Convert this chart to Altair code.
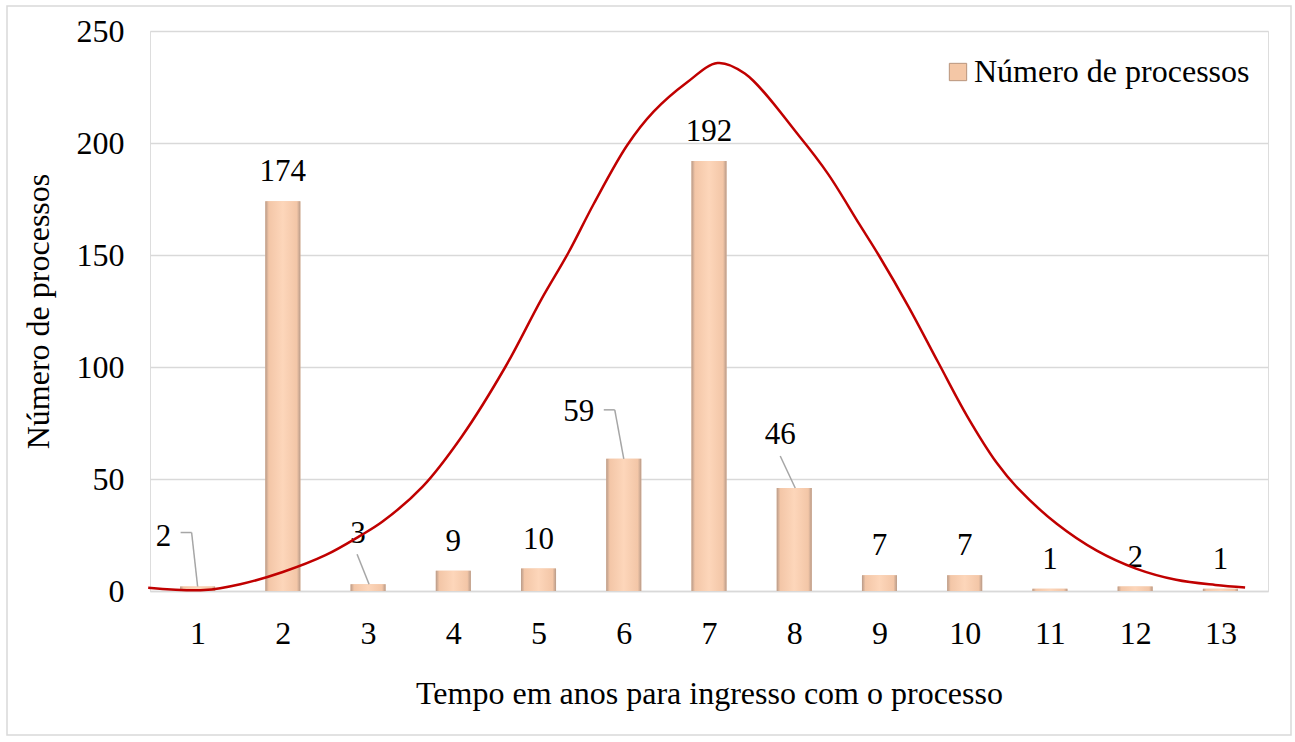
import altair as alt
import pandas as pd

# ---- data ----
anos = list(range(1, 14))
processos = [2, 174, 3, 9, 10, 59, 192, 46, 7, 7, 1, 2, 1]
serie = "Número de processos"

# smoothed distribution curve
curva_x = [0.42, 1.08, 1.5, 2.0, 2.5, 2.9, 3.17, 3.64, 4.10, 4.61, 5.03, 5.35,
           5.65, 6.04, 6.35, 6.74, 7.1, 7.42, 8.06, 8.4, 8.76, 8.99, 9.34, 9.69,
           10.03, 10.38, 10.62, 11.08, 11.55, 12.01, 12.48, 12.94, 13.29]
curva_y = [1.5, 0.4, 3, 8.5, 16, 24.5, 31, 46.6, 69, 100, 130, 151,
           173, 199, 214, 227, 235.7, 231, 203, 186, 164, 150, 127, 102,
           78, 57, 46, 30, 18, 10, 5, 2.7, 1.6]

barras = pd.DataFrame({"ano": anos, "n": processos, "serie": [serie] * len(anos)})
curva = pd.DataFrame({"x": curva_x, "y": curva_y})

FONT = "Liberation Serif"
W, H = 1118, 560

xs = alt.Scale(domain=[0.5, 13.5], nice=False, zero=False)
ys = alt.Scale(domain=[0, 250], nice=False)

x_axis = alt.Axis(
    values=anos, format="d", grid=False, ticks=False, tickSize=0,
    domain=True, domainColor="#D9D9D9", domainWidth=1.5,
    labelFont=FONT, labelFontSize=32, labelColor="#000000",
    labelBaseline="middle", labelPadding=42, labelAngle=0,
    title="Tempo em anos para ingresso com o processo",
    titleFont=FONT, titleFontSize=32, titleFontWeight="normal", titleColor="#000000",
    titleX=W / 2, titleY=102, titleBaseline="middle", titleAlign="center",
)
y_axis = alt.Axis(
    values=[0, 50, 100, 150, 200, 250], grid=True, gridColor="#D9D9D9", gridWidth=1.5,
    ticks=False, tickSize=0, domain=False,
    labelFont=FONT, labelFontSize=32, labelColor="#000000", labelPadding=26,
    title="Número de processos", titleFont=FONT, titleFontSize=32,
    titleFontWeight="normal", titleColor="#000000",
    titleAngle=-90, titleX=-112, titleY=H / 2, titleBaseline="middle", titleAlign="center",
)

base = alt.Chart(barras)

borda = alt.Chart(pd.DataFrame({"a": [0]})).mark_rect(
    filled=False, stroke="#D9D9D9", strokeWidth=1.5
).encode(x=alt.value(-143), x2=alt.value(1141), y=alt.value(-25), y2=alt.value(704))

bars = base.mark_bar(size=35).encode(
    x=alt.X("ano:Q", scale=xs, axis=x_axis),
    y=alt.Y("n:Q", scale=ys, axis=y_axis),
    color=alt.Color(
        "serie:N",
        scale=alt.Scale(range=["#F4C7A6"]),
        legend=alt.Legend(
            title=None, orient="none", legendX=792, legendY=25,
            symbolType="square", symbolSize=300, symbolFillColor="#F0C3A3",
            symbolStrokeColor="#B8957C", symbolStrokeWidth=1,
            labelFont=FONT, labelFontSize=32, labelColor="#000000",
            labelOffset=0, labelLimit=0, padding=0,
        ),
    ),
)

grad = alt.Gradient(
    gradient="linear", x1=0, x2=1, y1=0, y2=0,
    stops=[
        alt.GradientStop(color="#B89A88", offset=0),
        alt.GradientStop(color="#F3C6A7", offset=0.1),
        alt.GradientStop(color="#FDD6BA", offset=0.5),
        alt.GradientStop(color="#F3C6A7", offset=0.9),
        alt.GradientStop(color="#B89A88", offset=1),
    ],
)
bars_face = base.mark_bar(size=35, color=grad).encode(
    x=alt.X("ano:Q", scale=xs), y=alt.Y("n:Q", scale=ys)
)

linha = alt.Chart(curva).mark_line(
    color="#C00000", strokeWidth=2.5, interpolate="catmull-rom"
).encode(x=alt.X("x:Q", scale=xs), y=alt.Y("y:Q", scale=ys))

# labels placed directly above the bar
deslocados = [1, 3, 6, 8]
rot = base.transform_filter(
    alt.FieldOneOfPredicate(field="ano", oneOf=[a for a in anos if a not in deslocados])
).mark_text(font=FONT, fontSize=31, color="#000000", baseline="middle", dy=-29).encode(
    x=alt.X("ano:Q", scale=xs), y=alt.Y("n:Q", scale=ys), text="n:Q"
)

def rotulo(ano, dx, dy):
    return base.transform_filter(alt.datum.ano == ano).mark_text(
        font=FONT, fontSize=31, color="#000000", baseline="middle", dx=dx, dy=dy
    ).encode(x=alt.X("ano:Q", scale=xs), y=alt.Y("n:Q", scale=ys), text="n:Q")

def guia(ano, ox1, oy1, ox2, oy2):
    return base.transform_filter(alt.datum.ano == ano).mark_rule(
        color="#A6A6A6", strokeWidth=1.5,
        xOffset=ox1, yOffset=oy1, x2Offset=ox2, y2Offset=oy2,
    ).encode(
        x=alt.X("ano:Q", scale=xs), x2="ano:Q",
        y=alt.Y("n:Q", scale=ys), y2="n:Q",
    )

extras = [
    rotulo(1, -34, -50), guia(1, 0, 0, -6, -54), guia(1, -6, -54, -17, -54),
    rotulo(3, -10, -50), guia(3, 1, 0, -11, -30),
    rotulo(6, -45, -47), guia(6, 0, 0, -9, -49), guia(6, -9, -49, -20, -49),
    rotulo(8, -14, -53), guia(8, 1, 0, -14, -32),
]

chart = alt.layer(borda, bars, bars_face, rot, *extras, linha).properties(
    width=W, height=H,
    autosize=alt.AutoSizeParams(type="none"),
    padding={"left": 150, "top": 31, "right": 27, "bottom": 151},
).configure_view(stroke="transparent").configure(background="#FFFFFF")

chart.save("out.html", embed_options={"renderer": "svg", "actions": False})
